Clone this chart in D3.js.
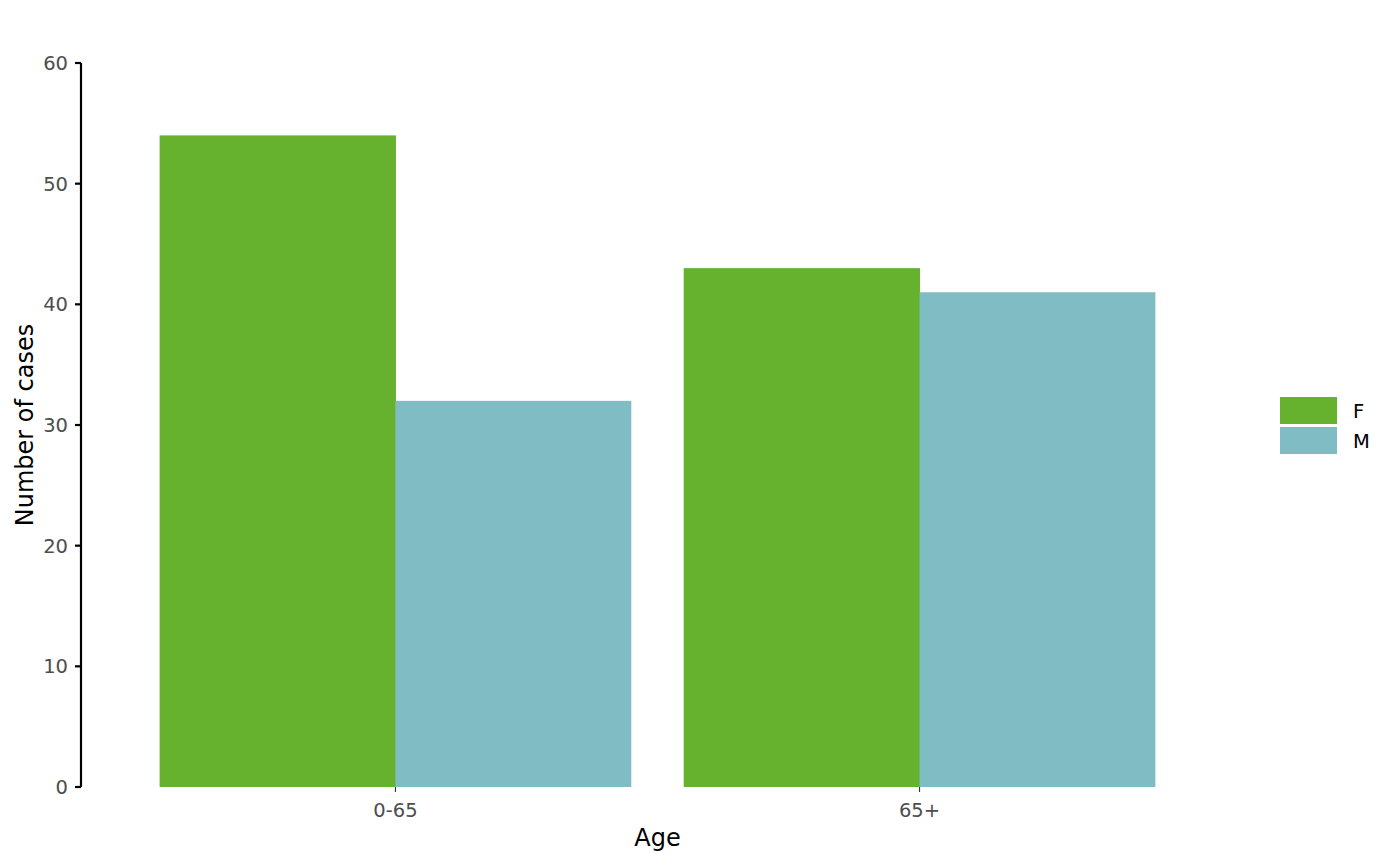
<!DOCTYPE html>
<html><head><meta charset="utf-8">
<script src="https://cdn.jsdelivr.net/npm/d3@7"></script>
<style>body{margin:0;background:#fff}svg{display:block;font-family:"DejaVu Sans",sans-serif}</style>
</head><body><svg id="c" width="1400" height="866"></svg>
<script>
const categories = ["0-65", "65+"];
const groups = ["F", "M"];
const valuesF = [54, 43];
const valuesM = [32, 41];
const yTicks = [0, 10, 20, 30, 40, 50, 60];
const colors = ["#66b22f", "#7fbcc3"];

const svg = d3.select("#c");
const L = 81, R = 1234, T = 63, B = 787;
const x = d3.scaleLinear().domain([0.4, 2.6]).range([L, R]);
const y = d3.scaleLinear().domain([0, 60]).range([B, T]);
const series = [valuesF, valuesM];

categories.forEach((c, i) => {
  groups.forEach((g, j) => {
    const x0 = x(i + 1 - 0.45 + j * 0.45), x1 = x(i + 1 - 0.45 + (j + 1) * 0.45);
    svg.append("rect").attr("x", x0).attr("width", x1 - x0 + (j === 0 ? 0.5 : 0))
      .attr("y", y(series[j][i])).attr("height", y(0) - y(series[j][i]))
      .attr("fill", colors[j]);
  });
});

// y axis
const ya = svg.append("g");
ya.append("line").attr("x1", L).attr("x2", L).attr("y1", T).attr("y2", B).attr("stroke", "#000").attr("stroke-width", 2.2);
yTicks.forEach(t => {
  ya.append("line").attr("x1", L - 6).attr("x2", L).attr("y1", y(t)).attr("y2", y(t)).attr("stroke", "#000").attr("stroke-width", 2.2);
  ya.append("text").attr("x", L - 13).attr("y", y(t)).attr("dy", "0.36em").attr("text-anchor", "end")
    .attr("font-size", 19.5).attr("fill", "#4d4d4d").text(t);
});
// x axis ticks
categories.forEach((c, i) => {
  svg.append("line").attr("x1", x(i + 1)).attr("x2", x(i + 1)).attr("y1", B).attr("y2", B + 5).attr("stroke", "#333").attr("stroke-width", 1.1);
  svg.append("text").attr("x", x(i + 1)).attr("y", B + 30).attr("text-anchor", "middle")
    .attr("font-size", 19.5).attr("fill", "#4d4d4d").text(c);
});
svg.append("text").attr("x", (L + R) / 2).attr("y", 846).attr("text-anchor", "middle").attr("font-size", 24).attr("fill", "#000").text("Age");
svg.append("text").attr("transform", `translate(33,${(T + B) / 2}) rotate(-90)`).attr("text-anchor", "middle")
  .attr("font-size", 24).attr("fill", "#000").text("Number of cases");

// legend
groups.forEach((g, j) => {
  const yy = 397 + j * 30;
  svg.append("rect").attr("x", 1280).attr("y", yy).attr("width", 57).attr("height", 27).attr("fill", colors[j]);
  svg.append("text").attr("x", 1353).attr("y", yy + 14).attr("dy", "0.36em").attr("font-size", 19.5).attr("fill", "#000").text(g);
});
</script></body></html>
